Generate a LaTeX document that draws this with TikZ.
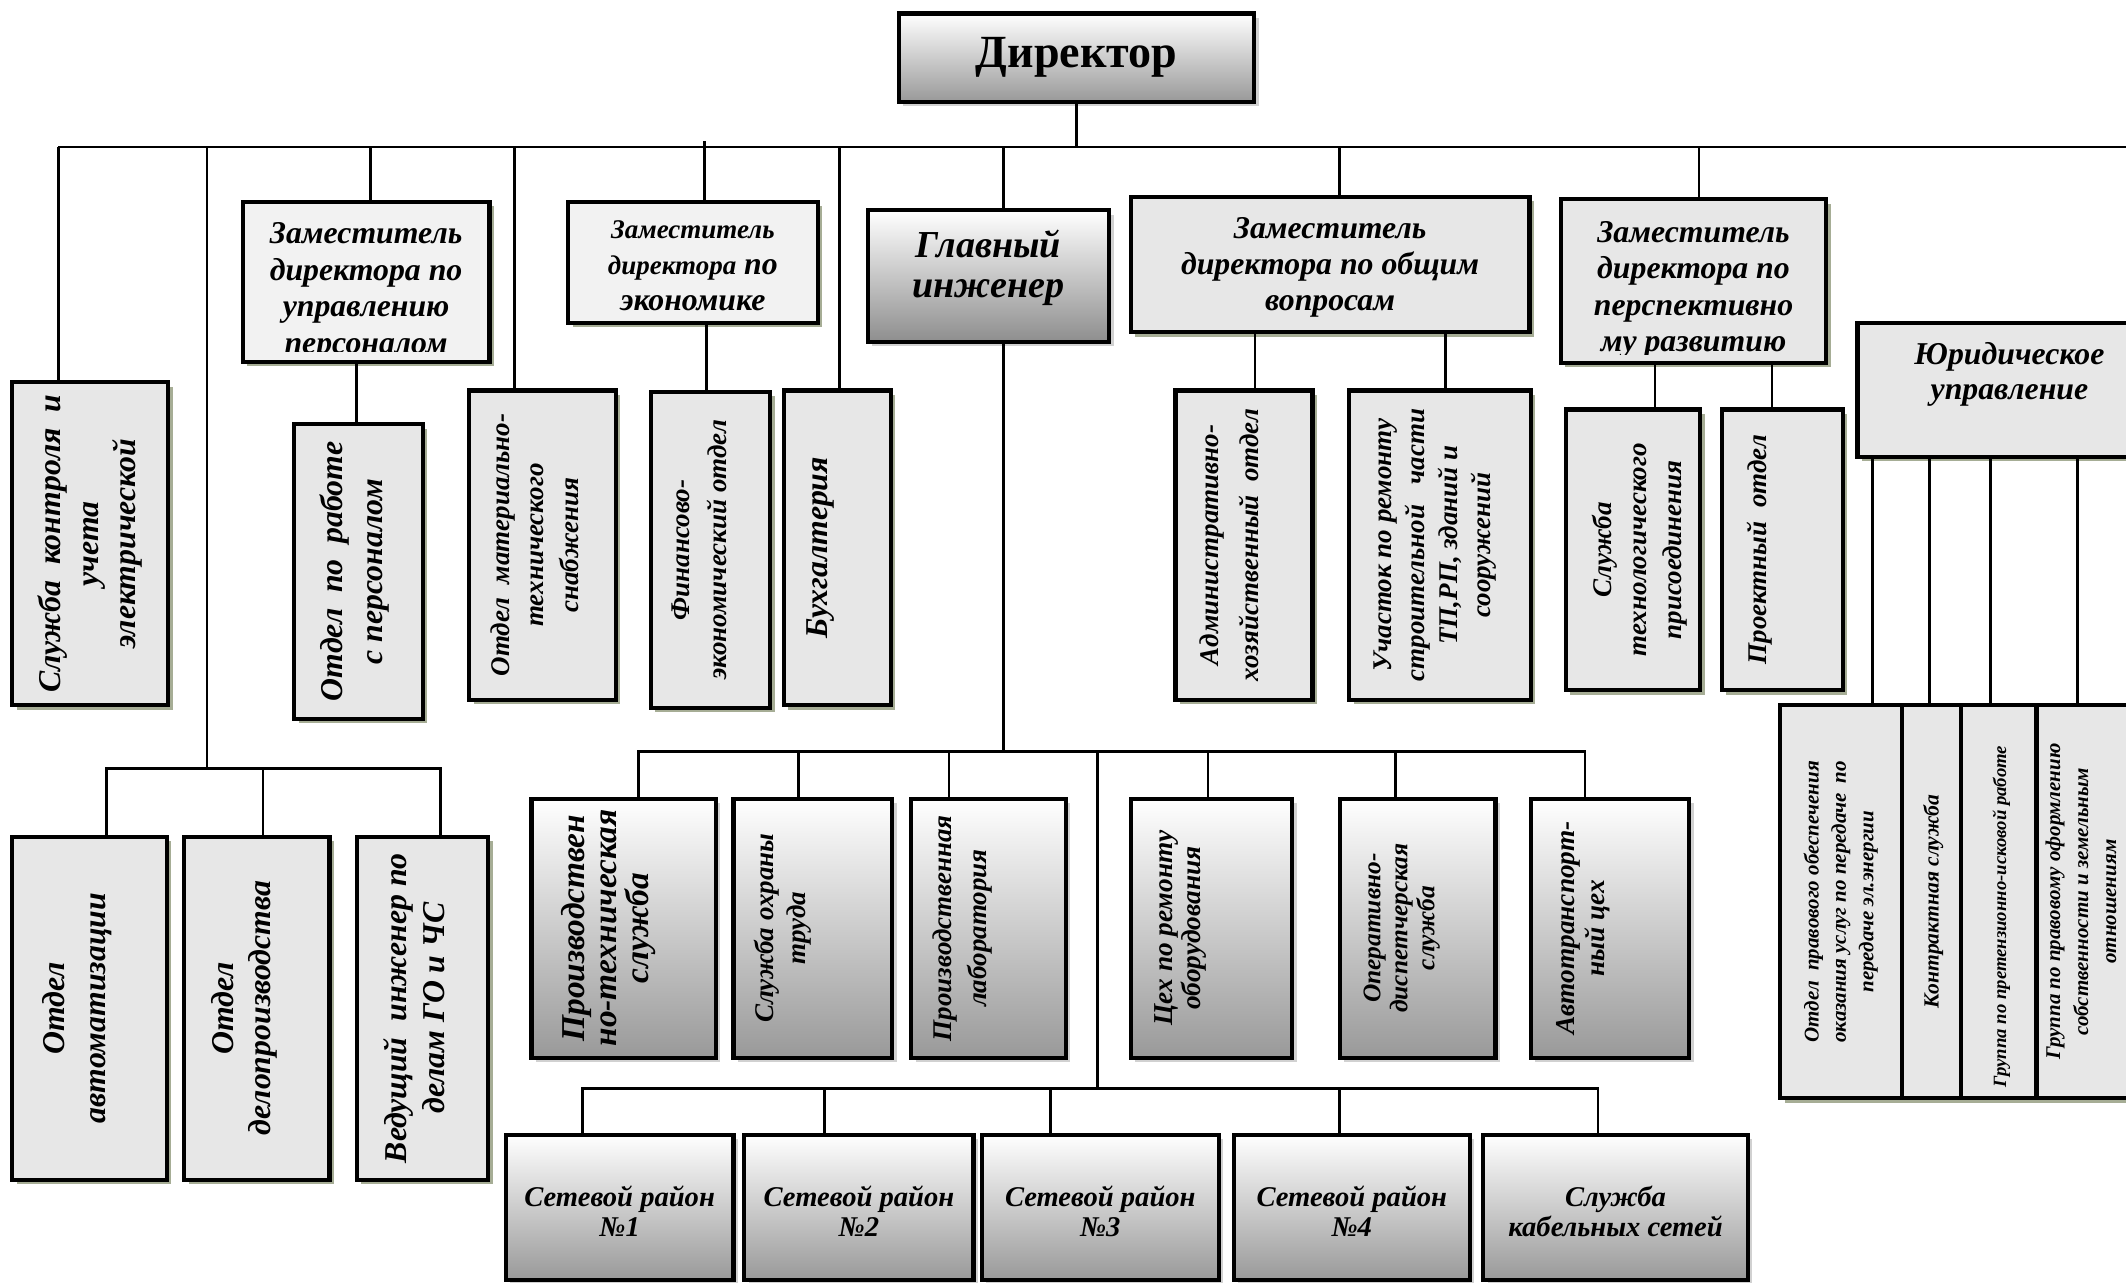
\documentclass[tikz,border=0pt]{standalone}
\usepackage{fontspec}
\setmainfont{Liberation Serif}
\usetikzlibrary{fit,shadows}

\definecolor{boxgray}{HTML}{E7E7E7}
\definecolor{boxpale}{HTML}{F2F2F2}
\definecolor{shadeend}{HTML}{999999}
\definecolor{shadedeep}{HTML}{8E8E8E}
\definecolor{olivegray}{HTML}{A6AD95}

\newcommand\fs[2]{\fontsize{#1}{#2}\selectfont}

\tikzset{
  link/.style={line width=0.85pt},
  sz/.style 2 args={font=\bfseries\itshape\fs{#1}{#2}},
  unit/.style={draw, line width=1.3pt, inner sep=0pt, align=center},
  flat/.style={unit, fill=boxgray,
    drop shadow={shadow xshift=1.4pt, shadow yshift=-1.4pt, fill=olivegray, opacity=1}},
  pale/.style={flat, fill=boxpale},
  grad/.style={unit, top color=white, bottom color=shadeend,
    drop shadow={shadow xshift=1.4pt, shadow yshift=-1.4pt, fill=black!18, opacity=1}},
  htxt/.style={inner sep=0pt, align=center},
  vtxt/.style={rotate=90, anchor=north, inner sep=0pt, align=center},
}

\begin{document}
\begin{tikzpicture}[x=0.015cm, y=-0.015cm]

	% page
	\useasboundingbox (0,0) rectangle (1568,946);
	\clip (0,0) rectangle (1568,946);

	% director
	\node[grad, fit={(663,10) (925,75)}] (dir) {};
	\node[htxt, font=\bfseries\fs{14.5}{16}] (dirtxt) at (dir.center) {Директор};

	% deputies
	\node[pale, fit={(179,149) (361,267)}] (zamper) {};
	\begin{scope}
		\clip (zamper.north west) rectangle ([yshift=4pt]zamper.south east);
		\node[htxt, sz={10}{11.5}, anchor=north] (zampertxt) at ([yshift=-7pt]zamper.north) {Заместитель\\директора по\\управлению\\персоналом};
	\end{scope}
	\node[pale, fit={(419,149) (603,238)}] (zamek) {};
	\node[htxt, sz={10}{11.3}] (zamektxt) at ([yshift=-1pt]zamek.center) {{\fs{8.5}{11.3}Заместитель}\\{\fs{8.5}{11.3}директора} по\\экономике};
	\node[grad, bottom color=shadedeep, fit={(640,155) (818,252)}] (glav) {};
	\node[htxt, sz={12}{12.5}] (glavtxt) at ([yshift=2.6pt]glav.center) {Главный\\инженер};
	\node[flat, fit={(834,145) (1128,245)}] (zamob) {};
	\node[htxt, sz={10}{11.3}] (zamobtxt) at ([yshift=-1pt]zamob.center) {Заместитель\\директора по общим\\вопросам};
	\node[flat, fit={(1151,147) (1347,267.5)}] (zamrazv) {};
	\begin{scope}
		\clip (zamrazv.north west) rectangle ([yshift=3.3pt]zamrazv.south east);
		\node[htxt, sz={10}{11.5}, anchor=north] (zamrazvtxt) at ([yshift=-7.3pt]zamrazv.north) {Заместитель\\директора по\\перспективно\\му развитию};
	\end{scope}
	\node[flat, fit={(1370,238) (1594,337)}] (jur) {};
	\node[htxt, sz={10}{11}] (jurtxt) at ([yshift=5pt]jur.center) {Юридическое\\управление};

	% departments under the director
	\node[flat, fit={(9,282) (124,520)}] (kontrol) {};
	\node[vtxt, sz={10}{11.8}] (kontroltxt) at ([xshift=8.5pt]kontrol.west) {Служба~~контроля~~и\\учета\\электрической};
	\node[flat, fit={(217,313) (312,530)}] (otdper) {};
	\node[vtxt, sz={10}{12.6}] (otdpertxt) at ([xshift=8.5pt]otdper.west) {Отдел~~по~~работе\\с персоналом};
	\node[flat, fit={(346,288) (454,516)}] (mto) {};
	\node[vtxt, sz={8.5}{10.8}] (mtotxt) at ([xshift=7.3pt]mto.west) {Отдел~~материально-\\технического\\снабжения};
	\node[flat, fit={(480,289) (568,522)}] (fin) {};
	\node[vtxt, sz={8.5}{11.4}] (fintxt) at ([xshift=7.2pt]fin.west) {Финансово-\\экономический отдел};
	\node[flat, fit={(578,288) (657,520)}] (buh) {};
	\node[vtxt, sz={10}{12}] (buhtxt) at ([xshift=7.7pt]buh.west) {Бухгалтерия};
	\node[flat, fit={(867,288) (968,516)}] (adm) {};
	\node[vtxt, sz={8.5}{12.4}] (admtxt) at ([xshift=8.2pt]adm.west) {Административно-\\хозяйственный~~отдел};
	\node[flat, fit={(995,288) (1129,516)}] (uch) {};
	\node[vtxt, sz={8.5}{10.4}] (uchtxt) at ([xshift=8.2pt]uch.west) {Участок по ремонту\\строительной~~~части\\ТП,РП, зданий и\\сооружений};
	\node[flat, fit={(1155,302) (1254,509)}] (teh) {};
	\node[vtxt, sz={8.5}{10.9}] (tehtxt) at ([xshift=8.8pt]teh.west) {Служба\\технологического\\присоединения};
	\node[flat, fit={(1270,302) (1359,509)}] (proekt) {};
	\node[vtxt, sz={8.5}{11}] (proekttxt) at ([xshift=8.3pt]proekt.west) {Проектный~~отдел};

	% lower left group
	\node[flat, fit={(9,617) (123,870)}] (avt) {};
	\node[vtxt, sz={10}{13}] (avttxt) at ([xshift=10pt]avt.west) {Отдел\\автоматизации};
	\node[flat, fit={(136,617) (243,870)}] (delo) {};
	\node[vtxt, sz={10}{11.5}] (delotxt) at ([xshift=9pt]delo.west) {Отдел\\делопроизводства};
	\node[flat, fit={(263,617) (360,870)}] (ved) {};
	\node[vtxt, sz={10}{12}] (vedtxt) at ([xshift=9pt]ved.west) {Ведущий~~инженер по\\делам ГО и ЧС};

	% services of the chief engineer
	\node[grad, fit={(392,589) (528,780)}] (pts) {};
	\node[vtxt, sz={10.5}{10}] (ptstxt) at ([xshift=10pt]pts.west) {Производствен\\но-техническая\\служба};
	\node[grad, fit={(541,589) (658,780)}] (ohr) {};
	\node[vtxt, sz={8.5}{10}] (ohrtxt) at ([xshift=7pt]ohr.west) {Служба охраны\\труда};
	\node[grad, fit={(672,589) (786,780)}] (lab) {};
	\node[vtxt, sz={8.5}{11}] (labtxt) at ([xshift=7.3pt]lab.west) {Производственная\\лаборатория};
	\node[grad, fit={(834,589) (953,780)}] (ceh) {};
	\node[vtxt, sz={8.6}{9}] (cehtxt) at ([xshift=7.9pt]ceh.west) {Цех по ремонту\\оборудования};
	\node[grad, fit={(988,589) (1103,780)}] (opd) {};
	\node[vtxt, sz={8}{8.5}] (opdtxt) at ([xshift=8pt]opd.west) {Оперативно-\\диспетчерская\\служба};
	\node[grad, fit={(1129,589) (1246,780)}] (avtotr) {};
	\node[vtxt, sz={8.6}{9.5}] (avtotrtxt) at ([xshift=8.4pt]avtotr.west) {Автотранспорт-\\ный цех};

	% network districts
	\node[grad, fit={(373,837) (541,944)}] (set1) {};
	\node[htxt, sz={9}{9.5}] (set1txt) at ([yshift=-1.3pt]set1.center) {Сетевой район\\№1};
	\node[grad, fit={(549,837) (718,944)}] (set2) {};
	\node[htxt, sz={9}{9.5}] (set2txt) at ([yshift=-1.3pt]set2.center) {Сетевой район\\№2};
	\node[grad, fit={(724,837) (899,944)}] (set3) {};
	\node[htxt, sz={9}{9.5}] (set3txt) at ([yshift=-1.3pt]set3.center) {Сетевой район\\№3};
	\node[grad, fit={(910,837) (1084,944)}] (set4) {};
	\node[htxt, sz={9}{9.5}] (set4txt) at ([yshift=-1.3pt]set4.center) {Сетевой район\\№4};
	\node[grad, fit={(1094,837) (1289,944)}] (kab) {};
	\node[htxt, sz={9}{9.5}] (kabtxt) at ([yshift=-1.3pt]kab.center) {Служба\\кабельных сетей};

	% legal groups
	\node[flat, fit={(1313,520) (1403,810)}] (j1) {};
	\node[vtxt, sz={6.6}{8.6}] (j1txt) at ([xshift=7.8pt]j1.west) {Отдел~~правового обеспечения\\оказания услуг по передаче~~по\\передаче эл.энергии};
	\node[flat, fit={(1403,520) (1446,810)}] (j2) {};
	\node[vtxt, sz={6.8}{8}] (j2txt) at ([xshift=7pt]j2.west) {Контрактная служба};
	\node[flat, fit={(1446,520) (1502,810)}] (j3) {};
	\node[vtxt, sz={5.9}{8}] (j3txt) at ([xshift=10.5pt, yshift=-4.7pt]j3.west) {Группа по претензионно-исковой работе};
	\node[flat, fit={(1502,520) (1600,810)}] (j4) {};
	\node[vtxt, sz={6.6}{8.8}] (j4txt) at ([xshift=3.3pt]j4.west) {Группа по правовому оформлению\\собственности и земельным\\отношениям};

	% main bus
	\coordinate (busW) at (43,108.5);
	\coordinate (busE) at (1600,108.5);
	\draw[link] (busW) -- (busE);
	\draw[link] (dir.south) -- (dir.south |- busW);

	% drops from the main bus
	\draw[link] (busW) -- (busW |- kontrol.north);
	\coordinate (lbus) at (152.6,567);
	\draw[link] (lbus |- busW) -- (lbus);
	\draw[link] (273.5,0 |- busW) -- (273.5,0 |- zamper.north);
	\draw[link] (379.5,0 |- busW) -- (379.5,0 |- mto.north);
	\coordinate (tick) at (519.5,104);
	\draw[link] (tick) -- (tick |- zamek.north);
	\draw[link] (619,0 |- busW) -- (619,0 |- buh.north);
	\draw[link] (740,0 |- busW) -- (740,0 |- glav.north);
	\draw[link] (988,0 |- busW) -- (988,0 |- zamob.north);
	\draw[link] (1253,0 |- busW) -- (1253,0 |- zamrazv.north);

	% deputies to departments
	\draw[link] (263,0 |- zamper.south) -- (263,0 |- otdper.north);
	\draw[link] (521,0 |- zamek.south) -- (521,0 |- fin.north);
	\draw[link] (925.6,0 |- zamob.south) -- (925.6,0 |- adm.north);
	\draw[link] (1066,0 |- zamob.south) -- (1066,0 |- uch.north);
	\draw[link] (1220.6,0 |- zamrazv.south) -- (1220.6,0 |- teh.north);
	\draw[link] (1307,0 |- zamrazv.south) -- (1307,0 |- proekt.north);
	\draw[link] (1381,0 |- jur.south) -- (1381,0 |- j1.north);
	\draw[link] (1423,0 |- jur.south) -- (1423,0 |- j2.north);
	\draw[link] (1468,0 |- jur.south) -- (1468,0 |- j3.north);
	\draw[link] (1532,0 |- jur.south) -- (1532,0 |- j4.north);

	% lower left bus
	\draw[link] (78.6,0 |- avt.north) |- (lbus) -| (325,0 |- ved.north);
	\draw[link] (194,0 |- lbus) -- (194,0 |- delo.north);

	% chief engineer bus
	\coordinate (gbus) at (740,554);
	\draw[link] (740,0 |- glav.south) -- (gbus);
	\draw[link] (470.8,0 |- pts.north) |- (gbus) -| (1169,0 |- avtotr.north);
	\draw[link] (588.8,0 |- gbus) -- (588.8,0 |- ohr.north);
	\draw[link] (700,0 |- gbus) -- (700,0 |- lab.north);
	\draw[link] (891,0 |- gbus) -- (891,0 |- ceh.north);
	\draw[link] (1029,0 |- gbus) -- (1029,0 |- opd.north);

	% districts bus
	\coordinate (sbus) at (809.5,803);
	\draw[link] (sbus |- gbus) -- (sbus);
	\draw[link] (429.5,0 |- set1.north) |- (sbus) -| (1178.6,0 |- kab.north);
	\draw[link] (608,0 |- sbus) -- (608,0 |- set2.north);
	\draw[link] (774.7,0 |- sbus) -- (774.7,0 |- set3.north);
	\draw[link] (988,0 |- sbus) -- (988,0 |- set4.north);

\end{tikzpicture}
\end{document}
